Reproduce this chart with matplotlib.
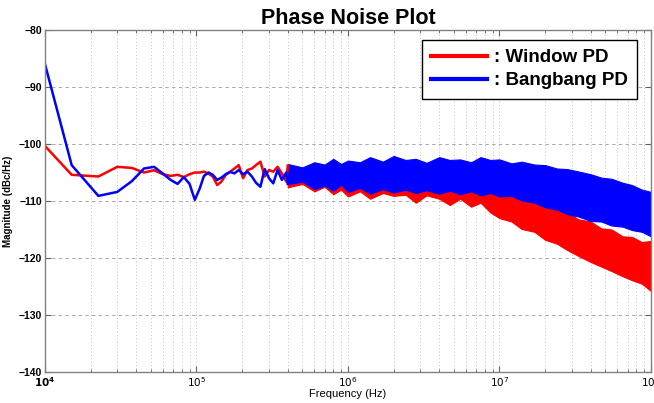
import numpy as np
import matplotlib
matplotlib.use("Agg")
import matplotlib.pyplot as plt
from matplotlib.ticker import LogLocator, FixedLocator, NullFormatter

plt.rcParams['font.family'] = ['Liberation Sans', 'DejaVu Sans']

# low / mid frequency part, individual points (kHz)
freq_khz = [10, 15, 22.5, 30, 37.5, 45, 52.5, 60, 67.5, 75, 82.5, 90, 97.5,
            105, 112, 120, 128, 137, 146, 156, 167, 178, 190, 203, 217, 232,
            247, 264, 282, 301, 321, 343, 366, 391]

window_pd = [-100.35, -105.4, -105.7, -104.0, -104.2, -105.0, -104.6, -105.3,
             -105.6, -105.4, -105.8, -105.3, -105.0,
             -105.0, -104.85, -105.2, -105.7, -107.2, -106.6, -105.4, -104.85,
             -104.3, -103.7, -106.0, -104.56, -104.3, -103.7, -103.1, -105.7,
             -104.56, -104.85, -104.0, -105.15, -106.6]

bangbang_pd = [-86.0, -103.7, -109.1, -108.4, -106.5, -104.3, -104.0, -105.2,
               -106.3, -107.0, -105.8, -107.0, -109.8,
               -107.8, -105.6, -105.0, -105.4, -106.3, -105.9, -105.3, -104.9,
               -105.15, -104.56, -105.3, -104.85, -105.7, -106.8, -107.5,
               -104.4, -106.0, -106.9, -104.56, -106.3, -105.0]

# high frequency part: traces are so dense they form a band (upper / lower edge)
band_freq = [4e5, 5e5, 6e5, 7e5, 8e5, 9e5, 1e6, 1.2e6, 1.4e6, 1.7e6, 2e6,
             2.4e6, 2.8e6, 3.3e6, 4e6, 4.7e6, 5.5e6, 6.5e6, 7.5e6, 8.7e6,
             1e7, 1.2e7, 1.4e7, 1.7e7, 2e7, 2.4e7, 2.8e7, 3.3e7, 4e7, 4.7e7,
             5.5e7, 6.5e7, 7.5e7, 8.7e7, 1e8]
window_hi = [-103.8, -104.3, -103.5, -104.2, -103.2, -104.0, -103.4, -103.8,
             -103.0, -103.7, -103.3, -103.9, -103.5, -104.1, -103.8, -104.5,
             -104.4, -105.2, -105.5, -106.5, -107.0, -108.3, -108.5, -109.8,
             -110.2, -111.5, -111.8, -113.2, -113.6, -114.8, -115.0, -116.2,
             -116.3, -117.2, -117.0]
window_lo = [-107.6, -107.0, -108.3, -107.5, -108.8, -108.0, -109.2, -108.3,
             -109.6, -108.6, -109.1, -108.9, -110.3, -109.0, -109.6, -110.7,
             -109.6, -111.0, -110.3, -112.0, -113.0, -113.6, -114.9, -115.4,
             -116.8, -117.5, -118.6, -119.6, -120.7, -121.5, -122.3, -123.2,
             -123.9, -124.5, -125.8]
bangbang_hi = [-103.5, -104.1, -103.2, -103.6, -102.6, -103.5, -102.9, -103.2,
               -102.3, -103.1, -102.1, -102.8, -102.6, -103.3, -102.3, -102.8,
               -102.7, -103.2, -102.3, -102.8, -102.7, -103.4, -103.1, -103.6,
               -103.7, -104.3, -104.4, -104.8, -105.3, -105.9, -106.1, -106.8,
               -107.2, -108.0, -108.4]
bangbang_lo = [-107.0, -106.6, -107.9, -107.3, -108.2, -107.1, -108.4, -107.7,
               -108.7, -107.9, -108.5, -108.0, -108.6, -108.1, -108.7, -108.2,
               -108.8, -108.3, -109.0, -108.6, -109.2, -109.1, -109.9, -110.3,
               -111.1, -111.5, -112.3, -112.7, -113.5, -113.6, -114.3, -114.5,
               -115.1, -115.4, -116.2]

f_low = np.array(freq_khz) * 1e3

fig = plt.figure(figsize=(6.54, 4.03), dpi=100)
ax = fig.add_axes([0.0688, 0.0769, 0.9266, 0.8486])

# red first, blue drawn on top (MATLAB order)
ax.plot(list(f_low) + [band_freq[0]], window_pd + [window_hi[0]],
        color="red", lw=1.8, label=": Window PD")
ax.fill_between(band_freq, window_lo, window_hi, color="red", lw=0.8, edgecolor="red")

ax.plot(list(f_low) + [band_freq[0]], bangbang_pd + [bangbang_lo[0]],
        color="blue", lw=1.8, label=": Bangbang PD")
ax.fill_between(band_freq, bangbang_lo, bangbang_hi, color="blue", lw=0.8, edgecolor="blue")

ax.set_xscale("log")
ax.set_xlim(1e4, 1e8)
ax.set_ylim(-140, -80)
ax.set_yticks(np.arange(-140, -79, 10))
ax.xaxis.set_major_locator(FixedLocator([1e4, 1e5, 1e6, 1e7, 1e8]))
ax.xaxis.set_minor_locator(LogLocator(base=10, subs=np.arange(2, 10)))
ax.xaxis.set_minor_formatter(NullFormatter())
ax.set_xticklabels([r"$\mathbf{10^4}$", r"$10^5$", r"$10^6$", r"$10^7$", r"$10^8$"])

ax.tick_params(which="both", direction="in", top=True, right=True,
               colors="#606060", labelcolor="black", labelsize=7.5, pad=2)
ax.tick_params(which="major", length=4)
ax.tick_params(which="minor", length=2.5)
for lab in ax.get_yticklabels():
    lab.set_fontweight("bold")
for s in ax.spines.values():
    s.set_color("#808080")
    s.set_linewidth(1.0)

ax.grid(which="major", axis="y", color="#9a9a9a", lw=0.6, linestyle=(0, (4, 4)))
ax.grid(which="both", axis="x", color="#b0b0b0", lw=0.6, linestyle=(0, (1, 3)))
ax.set_axisbelow(True)

ax.set_xlabel("Frequency (Hz)", fontsize=8, labelpad=0)
ax.set_ylabel("Magnitude (dBc/Hz)", fontsize=7, fontweight="bold", labelpad=4)
ax.set_title("Phase Noise Plot", fontsize=15.5, fontweight="bold", pad=4)

leg = ax.legend(loc="upper right", bbox_to_anchor=(0.977, 0.971), borderaxespad=0,
                prop={"weight": "bold", "size": 13.5}, handlelength=3.0,
                handletextpad=0.35, borderpad=0.5, labelspacing=0.3,
                fancybox=False, framealpha=1, edgecolor="black")
leg.get_frame().set_linewidth(1.0)
for h in leg.get_lines():
    h.set_linewidth(3)

fig.savefig("out.png", dpi=100)
